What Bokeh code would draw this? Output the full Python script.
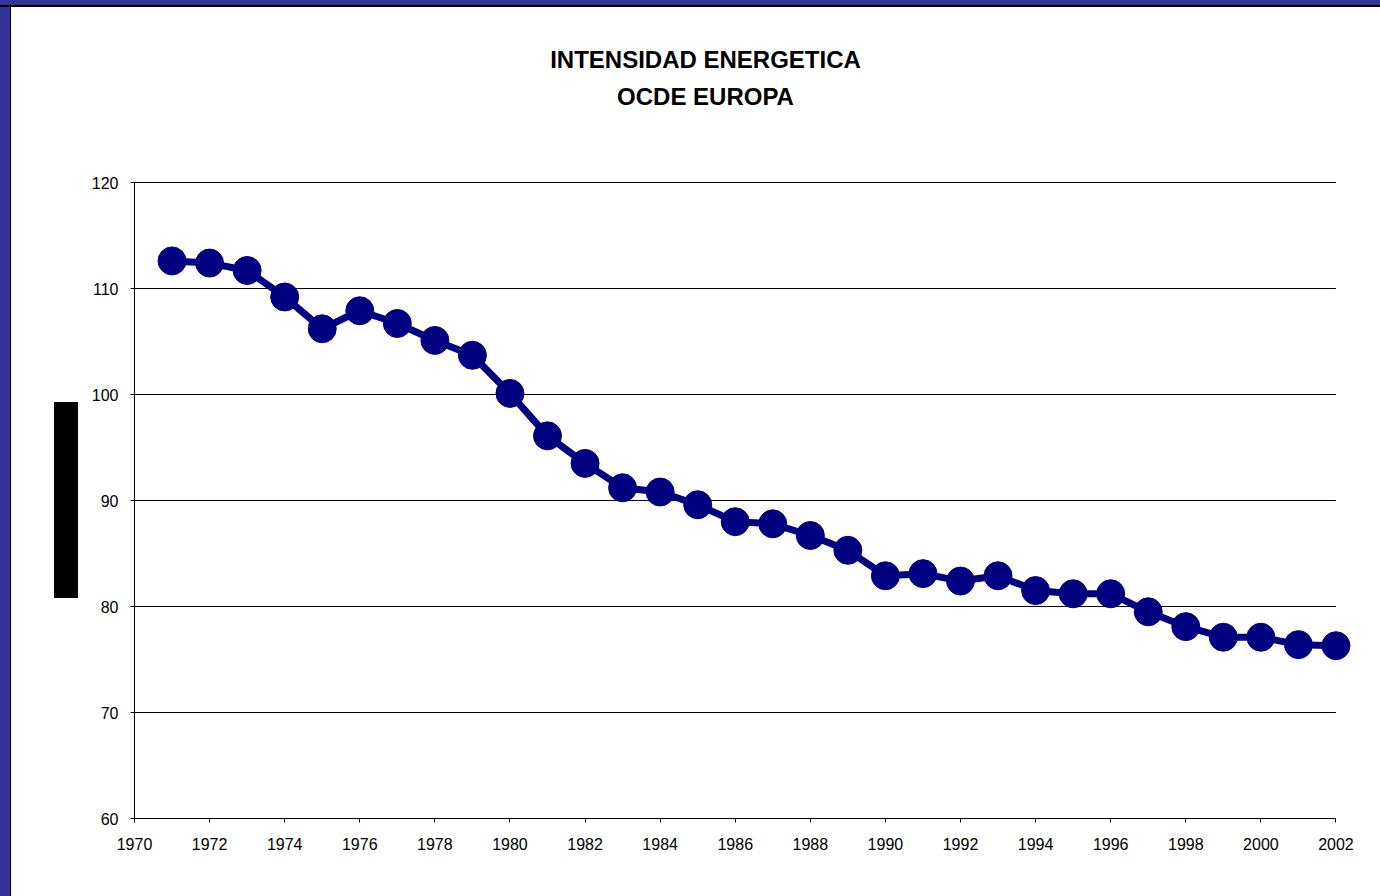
from bokeh.plotting import figure
from bokeh.models import FixedTicker, Label, Range1d, Div
from bokeh.layouts import row, column
from bokeh.embed import file_html
from bokeh.resources import INLINE

# ---- data ----
years = list(range(1971, 2003))
intensity = [112.6, 112.4, 111.7, 109.2, 106.2, 107.9, 106.7, 105.1, 103.7, 100.1,
             96.1, 93.5, 91.2, 90.8, 89.6, 88.0, 87.8, 86.7, 85.3, 82.9,
             83.1, 82.4, 82.9, 81.5, 81.2, 81.2, 79.5, 78.1, 77.1, 77.1, 76.4, 76.3]
x_ticks = list(range(1970, 2003, 2))
y_ticks = [60, 70, 80, 90, 100, 110, 120]
title_lines = ["INTENSIDAD ENERGETICA", "OCDE EUROPA"]

NAVY = "#000080"
SLIDE_BLUE = "#333399"
FONT = "Liberation Sans"

# ---- geometry (pixels) ----
W, H = 1380, 896
TOP_BAR, LEFT_BAR = 7, 11
BOX_GAP, BOX_W, BOX_TOP, BOX_H = 43, 24, 402, 196
FIG_X = LEFT_BAR + BOX_GAP + BOX_W          # figure starts here
FRAME_L, FRAME_B, Y120_PX = 134, 818, 182   # frame left, 60-line, 120-line
PX_PER_UNIT = (FRAME_B - Y120_PX) / (y_ticks[-1] - y_ticks[0])
fig_w, fig_h = W - FIG_X, H - TOP_BAR
y_top = y_ticks[-1] + (Y120_PX - TOP_BAR) / PX_PER_UNIT

p = figure(width=fig_w, height=fig_h,
           x_range=Range1d(1970, 2002.6), y_range=Range1d(60, y_top),
           output_backend="svg", toolbar_location=None,
           min_border_left=FRAME_L - FIG_X, min_border_right=22,
           min_border_top=0, min_border_bottom=H - FRAME_B)
p.outline_line_color = None
p.margin = 0

# horizontal grid, limited to the axis extent
p.xgrid.visible = False
p.ygrid.visible = False
p.segment(x0=[x_ticks[0]] * len(y_ticks), x1=[x_ticks[-1]] * len(y_ticks),
          y0=y_ticks, y1=y_ticks, line_color="black", line_width=1)

p.xaxis.ticker = FixedTicker(ticks=x_ticks, minor_ticks=[])
p.yaxis.ticker = FixedTicker(ticks=y_ticks, minor_ticks=[])
p.xaxis.bounds = (x_ticks[0], x_ticks[-1])
p.yaxis.bounds = (y_ticks[0], y_ticks[-1])
for ax in (p.xaxis, p.yaxis):
    ax.axis_line_color = "black"
    ax.major_tick_in = 0
    ax.major_tick_out = 4
    ax.major_tick_line_color = "black"
    ax.minor_tick_line_color = None
    ax.major_label_text_font = FONT
    ax.major_label_text_font_size = "16px"
    ax.major_label_text_color = "black"
p.yaxis.major_label_standoff = 12
p.xaxis.major_label_standoff = 15

# series
p.line(years, intensity, line_color=NAVY, line_width=7)
p.scatter(years, intensity, size=28, fill_color=NAVY, line_color=NAVY)

# title (two lines), screen units relative to frame (bottom-left origin)
for txt, cy in zip(title_lines, (59, 96)):
    p.add_layout(Label(x=705 - FRAME_L, y=FRAME_B - cy, x_units="screen", y_units="screen",
                       text=txt, text_align="center", text_baseline="middle",
                       text_font=FONT, text_font_style="bold", text_font_size="24px",
                       text_color="black"))

# ---- slide decoration ----
def block(w, h, bg=None):
    styles = {"background-color": bg} if bg else {}
    return Div(text="", width=w, height=h, margin=0, styles=styles)

top_bar = Div(text="", width=W, height=TOP_BAR, margin=0,
              styles={"background": f"linear-gradient(to bottom, {SLIDE_BLUE} 0px, {SLIDE_BLUE} 5px, #000 5px, #000 {TOP_BAR}px)"})
left_bar = Div(text="", width=LEFT_BAR, height=fig_h, margin=0,
               styles={"background": f"linear-gradient(to right, {SLIDE_BLUE} 0px, {SLIDE_BLUE} 10px, #000 10px, #000 {LEFT_BAR}px)"})
box_col = column(
    block(BOX_GAP + BOX_W, BOX_TOP - TOP_BAR),
    row(block(BOX_GAP, BOX_H), block(BOX_W, BOX_H, "black"), spacing=0),
    block(BOX_GAP + BOX_W, fig_h - (BOX_TOP - TOP_BAR) - BOX_H),
    spacing=0)

layout = column(top_bar, row(left_bar, box_col, p, spacing=0), spacing=0)

open("out.html", "w").write(file_html(layout, INLINE))
